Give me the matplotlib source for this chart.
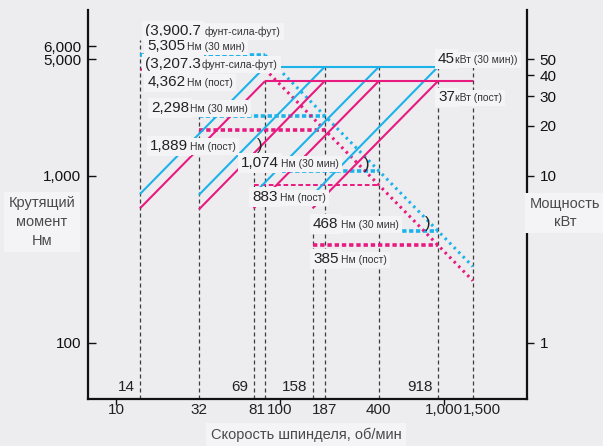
import matplotlib
matplotlib.use("Agg")
import matplotlib.pyplot as plt
from matplotlib.ticker import NullLocator

# ---- spindle gear ranges, rpm ----
gear_min_speed = [14, 32, 69, 158]
gear_base_speed = [81, 187, 400, 918]
max_speed = 1500

# ---- rated torque of each gear, Nm ----
torque_30min = [5305, 2298, 1074, 468]
torque_cont = [4362, 1889, 883, 385]
# torque at maximum speed on the constant-power curve
torque_30min_at_max = 287
torque_cont_at_max = 236

# ---- rated power, kW ----
power_30min = 45
power_cont = 37
# power at the lowest speed of each gear
power_30min_at_min = [7.8, 7.7, 7.8, 7.7]
power_cont_at_min = [6.4, 6.3, 6.4, 6.4]

# imperial torque of the first gear, lbf·ft
torque_lbfft_30min = 3900.7
torque_lbfft_cont = 3207.3

# ---- axis marks ----
x_tick_values = [10, 100, 1000]
x_mark_values = [10, 32, 81, 100, 187, 400, 1000, 1500]
x_mark_labels = ["10", "32", "81", "100", "187", "400", "1,000", "1,500"]
inner_speed_values = [14, 69, 158, 918]
guide_speeds = [14, 32, 69, 81, 158, 187, 400, 918, 1500]

torque_ticks = [100, 1000, 5000, 6000]
torque_tick_labels = ["100", "1,000", "5,000", "6,000"]
power_ticks = [1, 10, 20, 30, 40, 50]
power_tick_labels = ["1", "10", "20", "30", "40", "50"]

# ---- styling ----
BG = "#ededf0"
BOXC = "#f4f4f6"
BLUE = "#1cb2ea"
PINK = "#e8197f"
GUIDE = "#3c3c3c"
NUM_FONT = ["Liberation Sans", "DejaVu Sans"]
NARROW = ["Liberation Sans Narrow", "Liberation Sans", "DejaVu Sans"]
plt.rcParams["font.family"] = NUM_FONT

TORQUE_LIM = (46.2, 9863)
KW_PER_NM = 0.01  # right-hand power scale relative to the torque scale

fig = plt.figure(figsize=(6.03, 4.46), dpi=100, facecolor=BG)
ax = fig.add_axes([88 / 603, 1 - 399 / 446, 439 / 603, 389 / 446])
ax.set_facecolor(BG)
ax.set_xscale("log")
ax.set_yscale("log")
ax.set_xlim(6.75, 3206)
ax.set_ylim(*TORQUE_LIM)

ax2 = ax.twinx()
ax2.set_yscale("log")
ax2.set_ylim(TORQUE_LIM[0] * KW_PER_NM, TORQUE_LIM[1] * KW_PER_NM)

# ---- vertical guides ----
guide_tops = [6520, torque_30min[1], torque_30min[2], 3900, torque_30min[3],
              power_30min / KW_PER_NM, power_30min / KW_PER_NM,
              power_30min / KW_PER_NM, power_30min / KW_PER_NM]
for s, top in zip(guide_speeds, guide_tops):
    ax.plot([s, s], [TORQUE_LIM[0], top], color=GUIDE, lw=0.9,
            ls=(0, (3.2, 2.4)), zorder=1)

# ---- torque: constant-torque segments (dotted) ----
cont_styles = [(1.8, (0, (1.6, 1.0))), (2.6, (0, (1.2, 0.8))),
               (1.4, (0, (2.4, 1.4))), (2.6, (0, (1.2, 0.8)))]
for i in range(4):
    n0, nb = gear_min_speed[i], gear_base_speed[i]
    ax.plot([n0, nb], [torque_30min[i]] * 2, color=BLUE, lw=2.6,
            ls=(0, (1.2, 0.7)), dash_capstyle="butt", zorder=3)
    lw, ls = cont_styles[i]
    ax.plot([n0, nb], [torque_cont[i]] * 2, color=PINK, lw=lw,
            ls=ls, dash_capstyle="butt", zorder=3)

# ---- torque: constant-power fall-off (dotted) ----
ax.plot([gear_base_speed[0], max_speed], [torque_30min[0], torque_30min_at_max],
        color=BLUE, lw=2.2, ls=(0, (0.8, 1.3)), zorder=3)
ax.plot([gear_base_speed[0], max_speed], [torque_cont[0], torque_cont_at_max],
        color=PINK, lw=2.2, ls=(0, (0.8, 1.3)), zorder=3)

# ---- power lines (solid, right axis) ----
for i in range(4):
    n0, nb = gear_min_speed[i], gear_base_speed[i]
    ax2.plot([n0, nb], [power_30min_at_min[i], power_30min], color=BLUE, lw=1.5,
             solid_capstyle="butt", zorder=2)
    ax2.plot([n0, nb], [power_cont_at_min[i], power_cont], color=PINK, lw=1.5,
             solid_capstyle="butt", zorder=2)
ax2.plot([gear_base_speed[0], max_speed], [power_30min] * 2, color=BLUE, lw=1.5,
         solid_capstyle="butt", zorder=2)
ax2.plot([gear_base_speed[0], max_speed], [power_cont] * 2, color=PINK, lw=1.5,
         solid_capstyle="butt", zorder=2)

# ---- rating labels ----
num_box = dict(boxstyle="square,pad=0.18", fc=BOXC, ec="none")
unit_box = dict(boxstyle="square,pad=0.3", fc=BOXC, ec="none")


def rating_label(x, y, big, small, gap=1.5):
    t = ax2.text(x, y, big, transform=ax.transData, fontsize=11, family=NUM_FONT,
                 va="center", ha="left", color="#222222", zorder=7, bbox=num_box)
    common = dict(xy=(1, 0), xycoords=t, xytext=(gap, 1.0),
                  textcoords="offset points", fontsize=7.5, family=NARROW,
                  va="bottom", ha="left")
    # background panel beneath both texts, glyphs on top
    ax2.annotate(small, color="none", zorder=5, bbox=unit_box, **common)
    ax2.annotate(small, color="#333333", zorder=8, **common)


def fmt(v):
    return f"{v:,}"


rating_label(15.0, 7386, f"({torque_lbfft_30min:,.1f}", "фунт-сила-фут)", 3.0)
rating_label(15.5, 6000, fmt(torque_30min[0]), "Нм (30 мин)")
rating_label(15.0, 4686, f"({torque_lbfft_cont:,.1f}", "фунт-сила-фут)", 0.8)
rating_label(15.5, 3655, fmt(torque_cont[0]), "Нм (пост)")
rating_label(16.3, 2554, fmt(torque_30min[1]), "Нм (30 мин)", 0.6)
rating_label(16.1, 1513, fmt(torque_cont[1]), "Нм (пост)")
rating_label(57.8, 1196, fmt(torque_30min[2]), "Нм (30 мин)")
rating_label(67.5, 748, fmt(torque_cont[2]), "Нм (пост)")
rating_label(159, 516, fmt(torque_30min[3]), "Нм (30 мин)")
rating_label(159, 318, fmt(torque_cont[3]), "Нм (пост)")
rating_label(919, power_30min / KW_PER_NM * 1.115, fmt(power_30min), "кВт (30 мин))", 0.2)
rating_label(919, power_cont / KW_PER_NM * 0.80, fmt(power_cont), "кВт (пост)", 0.2)

for x, y in [(72.4, 1513), (325, 1164), (766, 516)]:
    ax2.text(x, y, ")", transform=ax.transData, fontsize=12, family=NARROW,
             va="center", ha="left", color="#222222", zorder=9)

# ---- axes, ticks, spines ----
for sp in ["top", "right"]:
    ax.spines[sp].set_visible(False)
for sp in ["top", "left", "bottom"]:
    ax2.spines[sp].set_visible(False)
for sp in [ax.spines["left"], ax.spines["bottom"], ax2.spines["right"]]:
    sp.set_linewidth(1.6)
    sp.set_color("#111111")

ax.set_yticks(torque_ticks, torque_tick_labels)
ax.yaxis.set_minor_locator(NullLocator())
ax.tick_params(axis="y", direction="in", length=6, width=1, pad=5,
               labelsize=11, colors="#111111")

ax2.set_yticks(power_ticks, power_tick_labels)
ax2.yaxis.set_minor_locator(NullLocator())
ax2.tick_params(axis="y", direction="out", length=5, width=1, pad=4,
                labelsize=11, colors="#111111")

ax.set_xticks(x_tick_values, [""] * len(x_tick_values))
ax.xaxis.set_minor_locator(NullLocator())
ax.tick_params(axis="x", direction="out", length=4, width=1, colors="#111111")

x_label_shift = {81: -5.5, 1500: 6.5}
for v, lab in zip(x_mark_values, x_mark_labels):
    ax.annotate(lab, xy=(v, 0), xycoords=("data", "axes fraction"),
                xytext=(x_label_shift.get(v, 0), -3), textcoords="offset points",
                ha="center", va="top", fontsize=11, color="#222222",
                annotation_clip=False)

for v in inner_speed_values:
    ax.annotate(fmt(v), xy=(v, 0), xycoords=("data", "axes fraction"),
                xytext=(-3.5, 3.5), textcoords="offset points",
                ha="right", va="bottom", fontsize=11, color="#222222")

# ---- axis titles ----
lab_box = dict(boxstyle="square,pad=0.3", fc=BOXC, ec="none")
fig.text(42 / 603, 1 - 222 / 446, "Крутящий\nмомент\nНм", ha="center", va="center",
         fontsize=10.5, family=NARROW, color="#4a4a4a", linespacing=1.45, bbox=lab_box)
fig.text(565 / 603, 1 - 213 / 446, "Мощность\nкВт", ha="center", va="center",
         fontsize=10.5, family=NARROW, color="#4a4a4a", linespacing=1.35, bbox=lab_box)
fig.text(306 / 603, 1 - 435 / 446, "Скорость шпинделя, об/мин", ha="center",
         va="center", fontsize=10.5, family=NARROW, color="#4a4a4a", bbox=lab_box)

fig.savefig("out.png", dpi=100, facecolor=BG)
